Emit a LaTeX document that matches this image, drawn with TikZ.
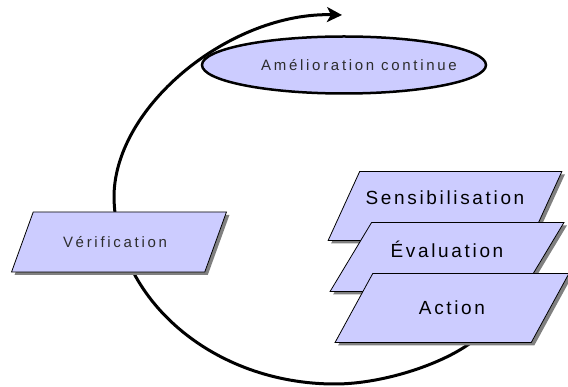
\documentclass[tikz,border=0pt]{standalone}
\usepackage{fontspec}
\setmainfont{Liberation Sans}
\newfontfamily\plaquefont[LetterSpace=14]{Liberation Sans}
\newfontfamily\grisfont[LetterSpace=18]{Liberation Sans}
\usetikzlibrary{shapes.geometric,shadows,arrows.meta}
\definecolor{lavande}{RGB}{204,204,255}
\definecolor{ombre}{RGB}{128,128,128}
\definecolor{gristexte}{RGB}{45,45,45}
\tikzset{
  plaque/.style={trapezium, trapezium left angle=50, trapezium right angle=130,
    trapezium stretches=true, draw=black, line width=0.8pt, fill=lavande,
    drop shadow={shadow xshift=3pt, shadow yshift=-3pt, opacity=1, fill=ombre},
    minimum width=234pt, minimum height=69pt,
    font=\plaquefont\fontsize{19}{19}\selectfont},
  grise/.style={text=gristexte, font=\grisfont\fontsize{15}{15}\selectfont},
  bulle/.style={ellipse, draw=black, line width=2.5pt, fill=lavande,
    minimum width=284pt, minimum height=57pt, inner sep=0pt, grise},
  boucle/.style={line width=3pt, -{Stealth[length=15pt, width=15pt, inset=4pt]}}
}
\begin{document}
\begin{tikzpicture}[x=1pt,y=-1pt]
\useasboundingbox (0,0) rectangle (568,387);
\clip (0,0) rectangle (568,387);
% la boucle
\coordinate (depart) at (478,337);
\coordinate (bas) at (335,384);
\coordinate (gauche) at (114,195);
\coordinate (pointe) at (342,15);
\draw[boucle] (depart) .. controls (450,362) and (385,384) .. (bas)
  .. controls (213,384) and (114,299) .. (gauche)
  .. controls (116,104) and (232,12) .. (pointe);

\node[bulle] (amelio) at (344,65) {\makebox[0pt]{\hspace*{30pt}Amélioration continue}};
\node[plaque, minimum width=215pt, minimum height=60pt, grise] (verif) at (119,242) {Vérification\hspace*{8pt}};
\node[plaque, text depth=16pt] (sensib) at (445,206) {Sensibilisation};
\node[plaque, text depth=16pt] (evalu) at (447,257) {Évaluation};
\node[plaque] (action) at (452,308) {Action};

\end{tikzpicture}
\end{document}
